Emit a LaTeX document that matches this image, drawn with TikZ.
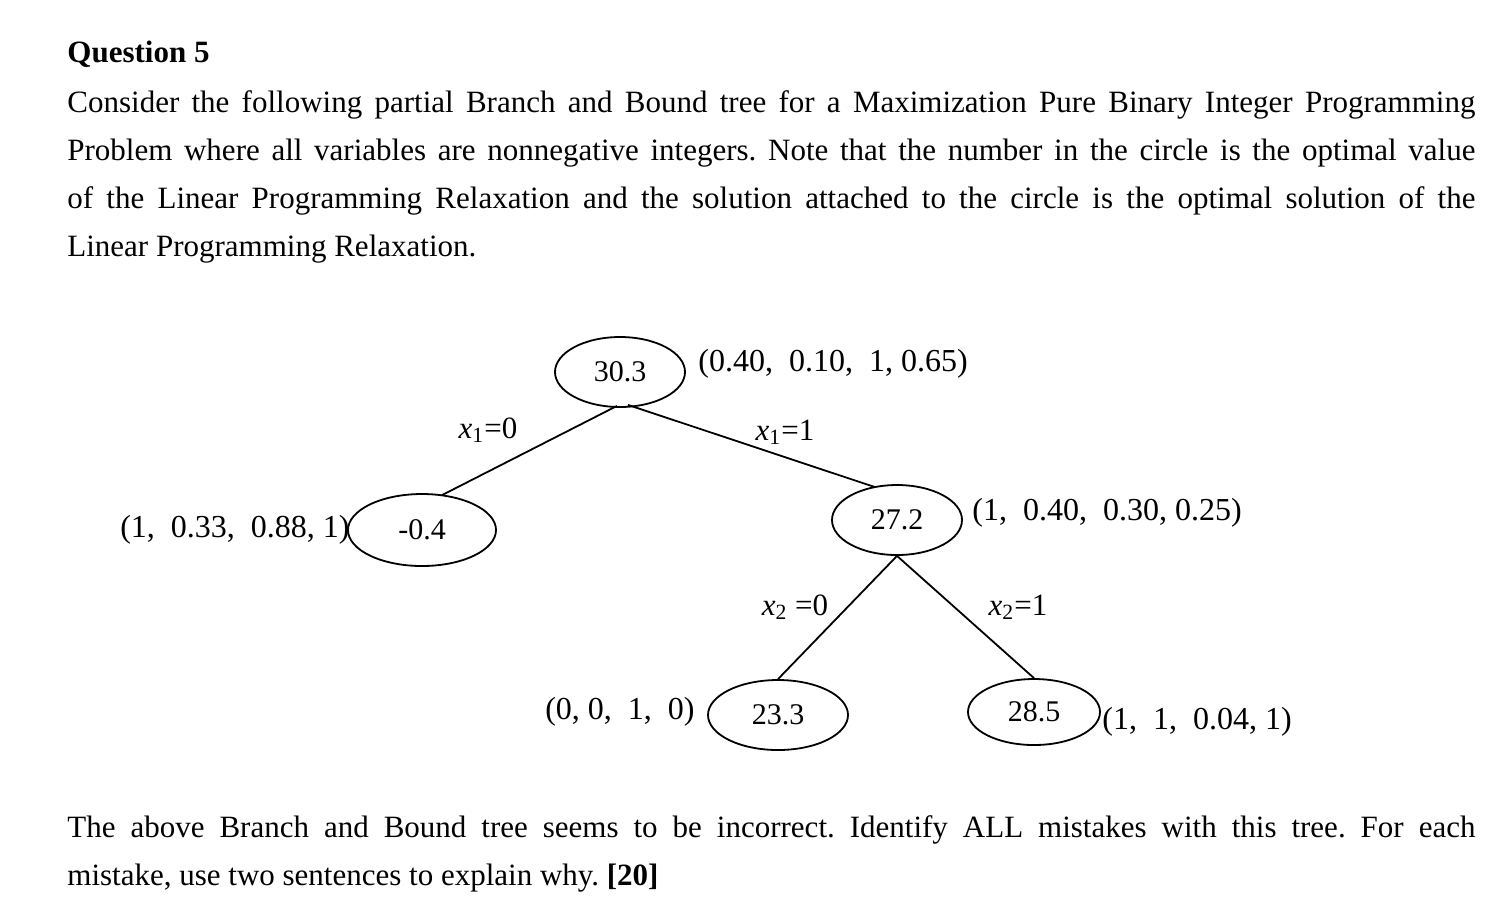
\documentclass[tikz,border=0pt]{standalone}
\usepackage{fontspec}
\setmainfont{Liberation Serif}
\usetikzlibrary{shapes.geometric}
\newcommand{\xv}[1]{\textit{x}\textsubscript{#1}}
\frenchspacing
\begin{document}
\begin{tikzpicture}[x=0.5pt,y=-0.5pt,
  bb/.style={draw,ellipse,line width=0.9pt,minimum width=#1,inner sep=0pt,minimum height=35pt,font=\fontsize{15}{17}\selectfont},
  sol/.style={font=\fontsize{16}{17}\selectfont,inner sep=0pt},
  lab/.style={font=\fontsize{15.5}{17}\selectfont,inner sep=0pt},
  para/.style={anchor=north west,inner sep=0pt,text width=704pt,align=justify,font=\frenchspacing\fontsize{15.5}{24}\selectfont}]
\useasboundingbox (0,0) rectangle (1497,896);
\node[anchor=west,inner sep=0pt,font=\bfseries\fontsize{15.5}{17}\selectfont] (h) at (67,54) {Question 5};
\node[para] (p1) at (67,90) {Consider the following partial Branch and Bound tree for a Maximization Pure Binary Integer Programming\linebreak Problem where all variables are nonnegative integers. Note that the number in the circle is the optimal value\linebreak of the Linear Programming Relaxation and the solution attached to the circle is the optimal solution of the\linebreak Linear Programming Relaxation.};
\node[bb=65pt] (r) at (620,372) {30.3};
\node[bb=74pt,minimum height=36pt] (l) at (422,530) {-0.4};
\node[bb=65pt] (m) at (897,520) {27.2};
\node[bb=70pt] (a) at (778,715) {23.3};
\node[bb=66pt,minimum height=33pt] (b) at (1034,712) {28.5};
\coordinate (r1) at ([shift={(-3,-2)}]r.south);
\coordinate (r2) at ([shift={(8,-3)}]r.south);
\coordinate (lt) at ([shift={(20,2)}]l.north);
\coordinate (mt) at ([shift={(-22,3)}]m.north);
\draw[line width=0.9pt] (r1) -- (lt);
\draw[line width=0.9pt] (r2) -- (mt);
\draw[line width=0.9pt] (m.south) -- (a.north);
\draw[line width=0.9pt] (m.south) -- (b.north);
\node[sol,anchor=west] (sr) at (698,364) {(0.40,\ \ 0.10,\ \ 1, 0.65)};
\node[sol,anchor=east] (sl) at (350,530) {(1,\ \ 0.33,\ \ 0.88,\ 1)};
\node[sol,anchor=west] (sm) at (972,513) {(1,\ \ 0.40,\ \ 0.30, 0.25)};
\node[sol,anchor=east] (sa) at (695,712) {(0,\ 0,\ \ 1,\ \ 0)};
\node[sol,anchor=west] (sb) at (1102,722) {(1,\ \ 1,\ \ 0.04,\ 1)};
\node[lab] (e1) at (488,430) {\xv{1}=0};
\node[lab] (e2) at (785,432) {\xv{1}=1};
\node[lab] (e3) at (795,607) {\xv{2} =0};
\node[lab] (e4) at (1018,607) {\xv{2}=1};
\node[para] (p2) at (67,815) {The above Branch and Bound tree seems to be incorrect. Identify ALL mistakes with this tree. For each\linebreak mistake, use two sentences to explain why. \textbf{[20]}};
\end{tikzpicture}
\end{document}
